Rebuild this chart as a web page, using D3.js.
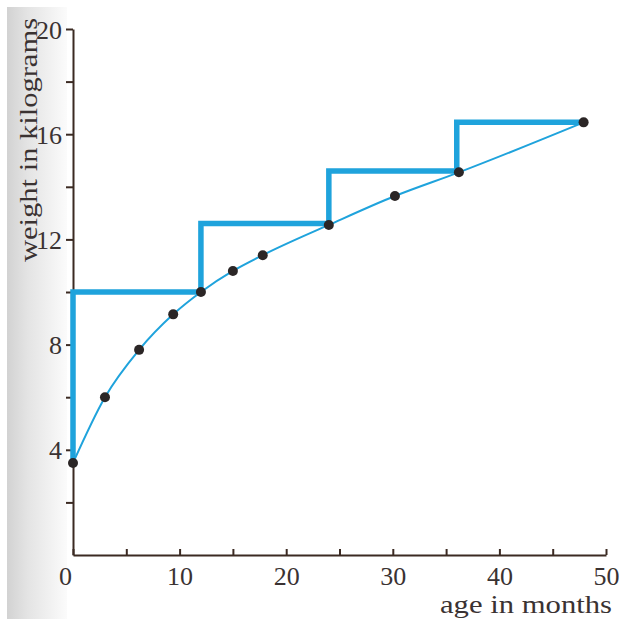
<!DOCTYPE html>
<html>
<head>
<meta charset="utf-8">
<script src="https://cdn.jsdelivr.net/npm/d3@7"></script>
<style>
  body { margin: 0; background: #fff; }
  text { font-family: "Liberation Serif", "DejaVu Serif", serif; fill: #3a3232; }
</style>
</head>
<body>
<script>
// measured points (age in months, weight in kg)
var ages    = [0, 3, 6.2, 9.4, 12, 15, 17.8, 24, 30.2, 36.2, 47.9];
var weights = [3.5, 6, 7.8, 9.15, 10, 10.8, 11.4, 12.55, 13.65, 14.55, 16.45];

// yearly step values
var stepAges    = [0, 12, 24, 36, 48];
var stepWeights = [10, 12.6, 14.6, 16.45];

var xTicks = [0, 5, 10, 15, 20, 25, 30, 35, 40, 45, 50];
var yTicks = [2, 4, 6, 8, 10, 12, 14, 16, 18, 20];

var w = 626, h = 624;
var svg = d3.select('body').append('svg').attr('width', w).attr('height', h);

// scanned page shading on the left
var grad = svg.append('defs').append('linearGradient').attr('id', 'shade');
grad.append('stop').attr('offset', '0%').attr('stop-color', '#d2d2d2');
grad.append('stop').attr('offset', '35%').attr('stop-color', '#e4e4e4');
grad.append('stop').attr('offset', '100%').attr('stop-color', '#fbfbfb');
svg.append('rect').attr('x', 7).attr('y', 7).attr('width', 60).attr('height', 612)
    .attr('fill', 'url(#shade)');

var x = d3.scaleLinear().domain([0, 50]).range([73, 606]);
var y = d3.scaleLinear().domain([0, 20]).range([555, 29]);

// x axis, ticks pointing up
var xAxis = svg.append('g').attr('transform', 'translate(0,' + y(0) + ')')
    .call(d3.axisBottom(x).tickValues(xTicks).tickSizeInner(-6).tickSizeOuter(0)
      .tickFormat(function(d) { return d % 10 === 0 ? d : ''; }));
xAxis.selectAll('text').attr('font-size', 26).attr('dy', '1.02em')
    .attr('dx', function(d) { return d === 0 ? -8 : 0; });

// y axis, ticks pointing left
var yAxis = svg.append('g').attr('transform', 'translate(' + x(0) + ',0)')
    .call(d3.axisLeft(y).tickValues(yTicks).tickSizeInner(7).tickSizeOuter(0)
      .tickFormat(function(d) { return d % 4 === 0 ? d : ''; }));
yAxis.selectAll('text').attr('font-size', 26).attr('dx', -1).attr('dy', '0.35em');

svg.selectAll('.domain').attr('stroke', '#3b2a22').attr('stroke-width', 2);
svg.selectAll('.tick line').attr('stroke', '#3b2a22').attr('stroke-width', 2);
svg.selectAll('.tick text').style('font-family', '"Liberation Serif", serif').attr('fill', '#3a3232');

// axis titles
svg.append('text').attr('x', 612).attr('y', 613).attr('text-anchor', 'end')
    .attr('font-size', 26).attr('textLength', 172).attr('lengthAdjust', 'spacingAndGlyphs')
    .text('age in months');
svg.append('text').attr('transform', 'translate(37,18) rotate(-90)')
    .attr('text-anchor', 'end').attr('font-size', 25)
    .attr('textLength', 244).attr('lengthAdjust', 'spacingAndGlyphs')
    .text('weight in kilograms');

// staircase
var stairs = [[stepAges[0], weights[0]]];
stepWeights.forEach(function(v, i) {
  stairs.push([stepAges[i], v]);
  stairs.push([stepAges[i + 1], v]);
});
svg.append('path')
    .attr('d', d3.line().x(function(d) { return x(d[0]); }).y(function(d) { return y(d[1]); })(stairs))
    .attr('fill', 'none').attr('stroke', '#1fa3dc').attr('stroke-width', 5.5)
    .attr('stroke-linejoin', 'miter');

// growth curve
var pts = ages.map(function(a, i) { return [a, weights[i]]; });
svg.append('path')
    .attr('d', d3.line().curve(d3.curveMonotoneX)
      .x(function(d) { return x(d[0]); }).y(function(d) { return y(d[1]); })(pts))
    .attr('fill', 'none').attr('stroke', '#1fa3dc').attr('stroke-width', 2);

// dots
svg.selectAll('circle.pt').data(pts).enter().append('circle')
    .attr('class', 'pt')
    .attr('cx', function(d) { return x(d[0]); })
    .attr('cy', function(d) { return y(d[1]); })
    .attr('r', 5).attr('fill', '#2b2626');
</script>
</body>
</html>
